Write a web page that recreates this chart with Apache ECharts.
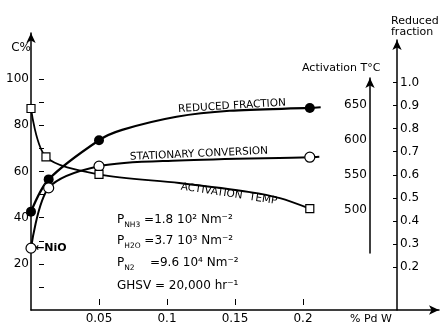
<!DOCTYPE html>
<html><head><meta charset="utf-8">
<script src="https://cdn.jsdelivr.net/npm/echarts@6/dist/echarts.min.js"></script>
<style>html,body{margin:0;padding:0;background:#fff}#c{width:442px;height:324px}</style>
</head><body><div id="c"></div>
<script>
// ---- data ----
// measured points (markers)
const reducedX = [0, 0.013, 0.05, 0.205];
const reducedFraction = [0.44, 0.58, 0.75, 0.89];
const conversionX = [0, 0.013, 0.05, 0.205];
const stationaryConversion = [26.8, 52.9, 62.3, 66.2];
const activationX = [0, 0.011, 0.05, 0.205];
const activationTemp = [645, 576, 551, 502];
// drawn curve positions between/after markers (unmarked)
const reducedCurveX = [0.067, 0.107, 0.146, 0.213];
const reducedCurve = [0.795, 0.852, 0.878, 0.893];
const conversionCurveX = [0.109, 0.212];
const conversionCurve = [64.8, 66.4];
const activationCurveX = [0.109, 0.161, 0.183];
const activationCurve = [538.6, 525.7, 517];

const xTicks = [0.05, 0.1, 0.15, 0.2];
const cTicks = [20, 40, 60, 80, 100];
const cMinorTicks = [10, 20, 30, 40, 50, 60, 70, 80, 90, 100];
const tTicks = [500, 550, 600, 650];
const rTicks = [0.2, 0.3, 0.4, 0.5, 0.6, 0.7, 0.8, 0.9, 1.0];

const FONT = 'DejaVu Sans';
const BLACK = '#000';
const arrowLine = {show:true, onZero:false, symbol:['none','arrow'], symbolSize:[7,10], lineStyle:{color:BLACK, width:1.5}};
const lbl = {color:BLACK, fontFamily:FONT, fontSize:12};

function merge(mx, my, cx, cy) {
  const pts = mx.map((x,i)=>({value:[x, my[i]]}))
    .concat(cx.map((x,i)=>({value:[x, cy[i]], symbol:'none'})));
  pts.sort((a,b)=>a.value[0]-b.value[0]);
  return pts;
}

const chart = echarts.init(document.getElementById('c'), null, {renderer:'canvas'});
const sub = {fontSize:7.5, fontFamily:FONT, fill:BLACK, verticalAlign:'bottom', lineHeight:18};
const nrm = {fontSize:12, fontFamily:FONT, fill:BLACK, lineHeight:14};
const option = {
  animation:false,
  backgroundColor:'#fff',
  grid:[
    {left:31, right:3, top:33, bottom:14, outerBoundsMode:'none'},
    {left:31, right:3, top:78, bottom:71, outerBoundsMode:'none'},
    {left:31, right:3, top:40, bottom:14, outerBoundsMode:'none'}
  ],
  xAxis:[
    {gridIndex:0, type:'value', position:'bottom', min:0, max:0.3, axisLine:arrowLine, axisTick:{show:false}, splitLine:{show:false},
     axisLabel:Object.assign({customValues:xTicks, margin:3, formatter:v=>String(v)}, lbl)},
    {gridIndex:0, type:'value', position:'bottom', min:0, max:0.3, offset:-5, axisLine:{show:false, onZero:false}, axisLabel:{show:false}, splitLine:{show:false},
     axisTick:{show:true, inside:true, length:6, customValues:xTicks, lineStyle:{color:BLACK, width:1}}},
    {gridIndex:1, type:'value', min:0, max:0.3, show:false, axisLine:{onZero:false}},
    {gridIndex:2, type:'value', min:0, max:0.3, show:false, axisLine:{onZero:false}}
  ],
  yAxis:[
    {gridIndex:0, type:'value', position:'left', min:0, max:120, axisLine:arrowLine, axisTick:{show:false}, splitLine:{show:false},
     axisLabel:Object.assign({customValues:cTicks, margin:2}, lbl)},
    {gridIndex:0, type:'value', position:'left', min:0, max:120, offset:-8, axisLine:{show:false, onZero:false}, axisLabel:{show:false}, splitLine:{show:false},
     axisTick:{show:true, inside:true, length:5, customValues:cMinorTicks, lineStyle:{color:BLACK, width:1}}},
    {gridIndex:1, type:'value', position:'left', offset:-339, min:438.6, max:688.6, axisLine:arrowLine, axisTick:{show:false}, splitLine:{show:false},
     axisLabel:Object.assign({customValues:tTicks, margin:3}, lbl)},
    {gridIndex:2, type:'value', position:'right', offset:-42, min:0.013, max:1.185, axisLine:arrowLine, splitLine:{show:false},
     axisTick:{show:true, inside:true, length:4, customValues:rTicks, lineStyle:{color:BLACK, width:1}},
     axisLabel:Object.assign({customValues:rTicks, margin:3, formatter:v=>v.toFixed(1)}, lbl)}
  ],
  series:[
    {name:'Reduced fraction', type:'line', xAxisIndex:3, yAxisIndex:3,
     data: merge(reducedX, reducedFraction, reducedCurveX, reducedCurve),
     smooth:0.3, symbol:'circle', symbolSize:10,
     itemStyle:{color:BLACK}, lineStyle:{color:BLACK, width:2.2}, z:3},
    {name:'Stationary conversion', type:'line', xAxisIndex:0, yAxisIndex:0,
     data: merge(conversionX, stationaryConversion, conversionCurveX, conversionCurve),
     smooth:0.3, symbol:'circle', symbolSize:10,
     itemStyle:{color:'#fff', borderColor:BLACK, borderWidth:1.2}, lineStyle:{color:BLACK, width:2}, z:4},
    {name:'Activation temp', type:'line', xAxisIndex:2, yAxisIndex:2,
     data: merge(activationX, activationTemp, activationCurveX, activationCurve),
     smooth:0.3, symbol:'rect', symbolSize:8,
     itemStyle:{color:'#fff', borderColor:BLACK, borderWidth:1.2}, lineStyle:{color:BLACK, width:1.8}, z:5}
  ],
  graphic:[
    {type:'text', x:31, y:48, style:{text:'C%', fill:BLACK, font:'12px '+FONT, textAlign:'right', textVerticalAlign:'middle'}},
    {type:'text', x:302, y:68, style:{text:'Activation T°C', fill:BLACK, font:'11px '+FONT, textAlign:'left', textVerticalAlign:'middle'}},
    {type:'text', x:391, y:21, style:{text:'Reduced', fill:BLACK, font:'11px '+FONT, textAlign:'left', textVerticalAlign:'middle'}},
    {type:'text', x:391, y:32, style:{text:'fraction', fill:BLACK, font:'11px '+FONT, textAlign:'left', textVerticalAlign:'middle'}},
    {type:'text', x:350, y:319, style:{text:'% Pd W', fill:BLACK, font:'11px '+FONT, textAlign:'left', textVerticalAlign:'middle'}},
    {type:'text', x:35, y:248, style:{text:'←NiO', fill:BLACK, font:'bold 11px '+FONT, textAlign:'left', textVerticalAlign:'middle'}},
    {type:'text', x:232, y:106, rotation:0.06, style:{text:'REDUCED FRACTION', fill:BLACK, font:'10.5px '+FONT, textAlign:'center', textVerticalAlign:'middle'}},
    {type:'text', x:199, y:154, rotation:0.045, style:{text:'STATIONARY CONVERSION', fill:BLACK, font:'10.5px '+FONT, textAlign:'center', textVerticalAlign:'middle'}},
    {type:'text', x:229, y:194, rotation:-0.15, style:{text:'ACTIVATION  TEMP', fill:BLACK, font:'10.5px '+FONT, textAlign:'center', textVerticalAlign:'middle'}},
    {type:'text', x:117, y:220, style:{text:'{p|P}{s|NH3}{t| =1.8 10² Nm⁻²}', textAlign:'left', textVerticalAlign:'middle', rich:{p:nrm, s:sub, t:nrm}}},
    {type:'text', x:117, y:241, style:{text:'{p|P}{s|H2O}{t| =3.7 10³ Nm⁻²}', textAlign:'left', textVerticalAlign:'middle', rich:{p:nrm, s:sub, t:nrm}}},
    {type:'text', x:117, y:263, style:{text:'{p|P}{s|N2}{t|    =9.6 10⁴ Nm⁻²}', textAlign:'left', textVerticalAlign:'middle', rich:{p:nrm, s:sub, t:nrm}}},
    {type:'text', x:117, y:286, style:{text:'GHSV = 20,000 hr⁻¹', fill:BLACK, font:'12px '+FONT, textAlign:'left', textVerticalAlign:'middle'}}
  ]
};
chart.setOption(option);
</script>
</body></html>
